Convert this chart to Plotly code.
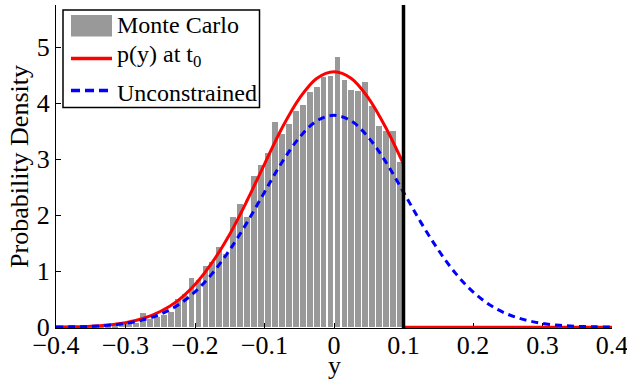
import plotly.graph_objects as go

# Monte Carlo histogram (bin centers, density)
bin_centers = [-0.345, -0.335, -0.325, -0.315, -0.305, -0.295, -0.285, -0.275, -0.265, -0.255,
               -0.245, -0.235, -0.225, -0.215, -0.205, -0.195, -0.185, -0.175, -0.165, -0.155,
               -0.145, -0.135, -0.125, -0.115, -0.105, -0.095, -0.085, -0.075, -0.065, -0.055,
               -0.045, -0.035, -0.025, -0.015, -0.005, 0.005, 0.015, 0.025, 0.035, 0.045,
               0.055, 0.065, 0.075, 0.085, 0.095]
mc_density = [0.005, 0.01, 0.02, 0.03, 0.05, 0.06, 0.08, 0.25, 0.15, 0.18,
              0.21, 0.27, 0.50, 0.59, 0.87, 0.85, 1.10, 1.16, 1.43, 1.31,
              1.96, 2.20, 1.96, 2.69, 2.90, 3.10, 3.66, 3.45, 3.62, 3.85,
              3.96, 4.20, 4.29, 4.47, 4.48, 4.82, 4.42, 4.24, 4.21, 4.37,
              3.95, 3.59, 3.50, 3.50, 2.95]

# p(y) at t0 (constrained density)
py_x = [-0.4, -0.375, -0.35, -0.325, -0.3, -0.275, -0.25, -0.225, -0.2, -0.175, -0.15,
        -0.125, -0.1, -0.075, -0.05, -0.025, 0.0, 0.025, 0.05, 0.075, 0.1]
py_y = [0.004, 0.008, 0.018, 0.04, 0.08, 0.155, 0.28, 0.47, 0.76, 1.16, 1.66,
        2.26, 2.91, 3.55, 4.08, 4.44, 4.56, 4.44, 4.08, 3.55, 2.91]
py_tail_x = [0.1, 0.4]
py_tail_y = [0.0, 0.0]

# Unconstrained density
un_x = [-0.4, -0.375, -0.35, -0.325, -0.3, -0.275, -0.25, -0.225, -0.2, -0.175, -0.15,
        -0.125, -0.1, -0.075, -0.05, -0.025, 0.0, 0.025, 0.05, 0.075, 0.1, 0.125,
        0.15, 0.175, 0.2, 0.225, 0.25, 0.275, 0.3, 0.325, 0.35, 0.375, 0.4]
un_y = [0.003, 0.007, 0.015, 0.033, 0.066, 0.13, 0.23, 0.39, 0.63, 0.96, 1.38,
        1.87, 2.41, 2.94, 3.38, 3.68, 3.78, 3.68, 3.38, 2.94, 2.41, 1.87,
        1.38, 0.96, 0.63, 0.39, 0.23, 0.13, 0.066, 0.033, 0.015, 0.007, 0.003]

constraint = 0.1
y_top = 5.75

x_ticks = [-0.4, -0.3, -0.2, -0.1, 0, 0.1, 0.2, 0.3, 0.4]
x_tick_labels = ["\u22120.4", "\u22120.3", "\u22120.2", "\u22120.1", "0", "0.1", "0.2", "0.3", "0.4"]
y_ticks = [0, 1, 2, 3, 4, 5]

legend_labels = ["Monte Carlo", "p(y) at t<sub>0</sub>", "Unconstrained"]
x_title = "y"
y_title = "Probability Density"

FONT = "Times New Roman, Liberation Serif, Times, serif"
GRAY = "#999999"
RED = "#ff0000"
BLUE = "#0000ff"

# figure geometry (pixels)
W, H = 627, 385
ML, MR, MT, MB = 56, 15, 5, 57
PW, PH = W - ML - MR, H - MT - MB


def px_x(p):
    return (p - ML) / PW


def px_y(p):
    return (H - MB - p) / PH


fig = go.Figure()
fig.add_trace(go.Bar(x=bin_centers, y=mc_density, width=0.0083, name=legend_labels[0],
                     showlegend=False, marker=dict(color=GRAY, line=dict(width=0))))
fig.add_trace(go.Scatter(x=py_x, y=py_y, mode="lines", name=legend_labels[1], showlegend=False,
                         line=dict(color=RED, width=3, shape="spline")))
fig.add_trace(go.Scatter(x=py_tail_x, y=py_tail_y, mode="lines", showlegend=False,
                         line=dict(color=RED, width=3)))
fig.add_trace(go.Scatter(x=un_x, y=un_y, mode="lines", name=legend_labels[2], showlegend=False,
                         line=dict(color=BLUE, width=3, dash="7px,5px", shape="spline")))
fig.add_trace(go.Scatter(x=[constraint, constraint], y=[-0.015, y_top], mode="lines", showlegend=False,
                         line=dict(color="black", width=3.5)))

# MATLAB-style legend box
shapes = [
    dict(type="rect", xref="paper", yref="paper", x0=px_x(63), x1=px_x(259.5), y0=px_y(107.5), y1=px_y(10),
         line=dict(color="black", width=1.5), fillcolor="white", layer="above"),
    dict(type="rect", xref="paper", yref="paper", x0=px_x(71), x1=px_x(112), y0=px_y(36.5), y1=px_y(15),
         line=dict(width=0), fillcolor=GRAY, layer="above"),
    dict(type="line", xref="paper", yref="paper", x0=px_x(71), x1=px_x(112), y0=px_y(58.5), y1=px_y(58.5),
         line=dict(color=RED, width=3.5), layer="above"),
    dict(type="line", xref="paper", yref="paper", x0=px_x(71), x1=px_x(112), y0=px_y(90.5), y1=px_y(90.5),
         line=dict(color=BLUE, width=3.5, dash="9px,5px"), layer="above"),
]
text_y = [25.5, 56, 92.5]
annotations = [
    dict(text=t, xref="paper", yref="paper", x=px_x(115), y=px_y(ty), xanchor="left", yanchor="middle",
         showarrow=False, font=dict(family=FONT, size=24, color="black"))
    for t, ty in zip(legend_labels, text_y)
]
# x-axis title
annotations.append(dict(text=x_title, xref="paper", yref="paper", x=0.5, y=px_y(365),
                        xanchor="center", yanchor="middle", showarrow=False,
                        font=dict(family=FONT, size=26, color="black")))

fig.update_layout(
    width=W, height=H,
    margin=dict(l=ML, r=MR, t=MT, b=MB),
    paper_bgcolor="white", plot_bgcolor="white",
    font=dict(family=FONT, size=26, color="black"),
    bargap=0,
    showlegend=False,
    shapes=shapes,
    annotations=annotations,
    xaxis=dict(range=[-0.4, 0.4], tickvals=x_ticks, ticktext=x_tick_labels,
               ticks="inside", ticklen=5, tickcolor="black", showline=True, linecolor="black",
               linewidth=1, showgrid=False, zeroline=False, layer="below traces",
               automargin=False, ticklabeloverflow="allow", ticklabelstandoff=-6,
               tickfont=dict(family=FONT, size=26)),
    yaxis=dict(range=[-0.015, y_top], tickvals=y_ticks,
               ticks="inside", ticklen=5, tickcolor="black", showline=True, linecolor="black",
               linewidth=1, showgrid=False, zeroline=False, layer="below traces",
               automargin=False,
               title=dict(text=y_title, standoff=0, font=dict(family=FONT, size=26)),
               tickfont=dict(family=FONT, size=26)),
)

fig.write_html("out.html", config={"displayModeBar": False},
               post_script="document.body.style.margin='0';document.body.style.overflow='hidden';")
